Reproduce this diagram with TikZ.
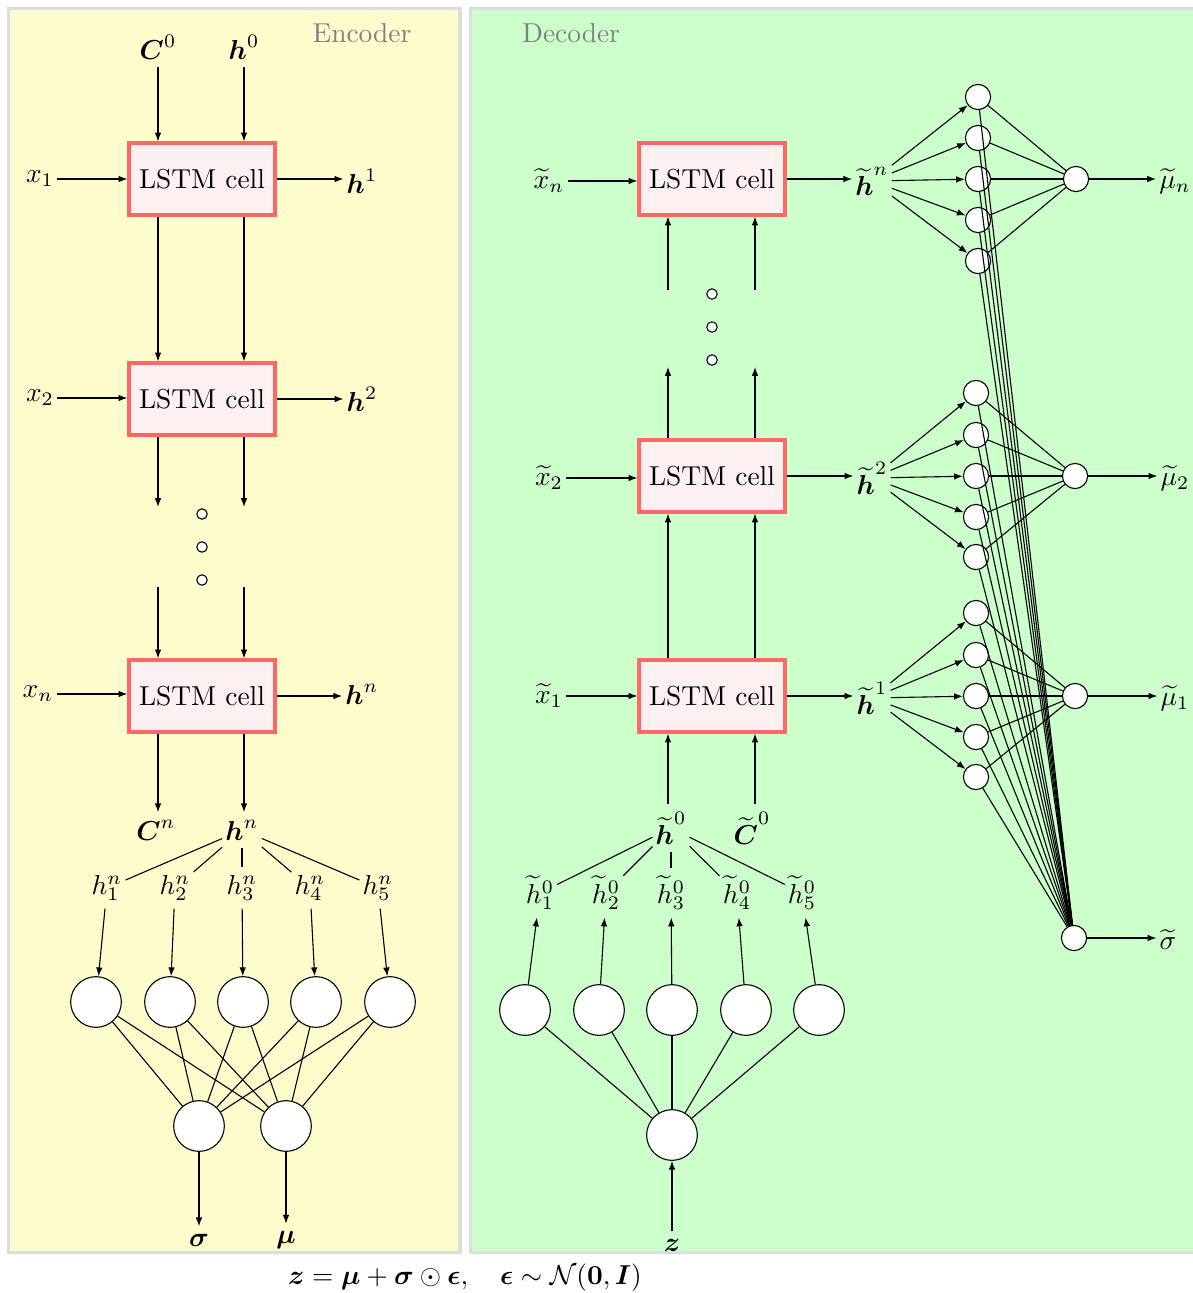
\documentclass[tikz,border=0pt]{standalone}
\usepackage{amsmath,amssymb}
\usetikzlibrary{arrows.meta}
\definecolor{encyellow}{RGB}{253,252,204}
\definecolor{decgreen}{RGB}{204,255,204}
\definecolor{panelgray}{RGB}{221,221,221}
\definecolor{lstmred}{RGB}{255,102,102}
\definecolor{lstmfill}{RGB}{253,240,240}
\definecolor{ttlgray}{RGB}{128,128,128}
\begin{document}
\begin{tikzpicture}[x=0.365pt,y=-0.365pt,
  >={Latex[length=3.2pt,width=2.4pt]},
  lstm/.style={draw=lstmred,fill=lstmfill,line width=1.2pt,minimum width=53.3pt,minimum height=26.3pt,inner sep=0pt},
  lbl/.style={inner xsep=1pt,inner ysep=2.6pt},
  bigc/.style={circle,draw,fill=white,minimum size=18.5pt,inner sep=0pt},
  smc/.style={circle,draw,fill=white,minimum size=9.2pt,inner sep=0pt},
  dotc/.style={circle,draw,fill=white,minimum size=3.8pt,inner sep=0pt},
  panel/.style={draw=panelgray,line width=1.1pt},
  ttl/.style={text=ttlgray}]
\useasboundingbox (0,0) rectangle (1193,1293);
\clip (0,0) rectangle (1193,1293);
% panels
\draw[panel,fill=encyellow] (8.5,8.5) rectangle (460,1252);
\draw[panel,fill=decgreen] (470.5,8.5) rectangle (1205,1252);
\node[ttl] (enc) at (362,33) {Encoder};
\node[ttl] (dec) at (571,33) {Decoder};

% ================= Encoder =================
\node[lbl] (C0) at (158,47) {$\boldsymbol{C}^0$};
\node[lbl] (h0) at (244,47) {$\boldsymbol{h}^0$};
\node[lstm] (e1) at (202,179) {LSTM cell};
\node[lbl] (x1) at (40,179) {$x_1$};
\node[lbl] (H1) at (362,181) {$\boldsymbol{h}^1$};
\node[lstm] (e2) at (202,399) {LSTM cell};
\node[lbl] (x2) at (40,398) {$x_2$};
\node[lbl] (H2) at (362,399) {$\boldsymbol{h}^2$};
\node[lstm] (e3) at (202,696) {LSTM cell};
\node[lbl] (xn) at (38,694) {$x_n$};
\node[lbl] (Hn) at (362,694) {$\boldsymbol{h}^n$};
\coordinate (ea) at (158,507);
\coordinate (eb) at (244,507);
\coordinate (ec) at (158,587);
\coordinate (ed) at (244,587);
\node[dotc] (edot1) at (202,514) {};
\node[dotc] (edot2) at (202,547) {};
\node[dotc] (edot3) at (202,580) {};
\node[lbl] (Cn) at (156,830) {$\boldsymbol{C}^n$};
\node[lbl] (hn) at (242,830) {$\boldsymbol{h}^n$};

\draw[->] (C0) -- (C0 |- e1.north);
\draw[->] (h0) -- (h0 |- e1.north);
\draw[->] (x1.east) -- (x1.east -| e1.west);
\draw[->] (e1.east) -- (e1.east -| H1.west);
\draw[->] (e1.south -| C0) -- (e2.north -| C0);
\draw[->] (e1.south -| h0) -- (e2.north -| h0);
\draw[->] (x2.east) -- (x2.east -| e2.west);
\draw[->] (e2.east) -- (e2.east -| H2.west);
\draw[->] (e2.south -| ea) -- (ea);
\draw[->] (e2.south -| eb) -- (eb);
\draw[->] (ec) -- (e3.north -| ec);
\draw[->] (ed) -- (e3.north -| ed);
\draw[->] (xn.east) -- (xn.east -| e3.west);
\draw[->] (e3.east) -- (e3.east -| Hn.west);
\draw[->] (e3.south -| C0) -- (C0 |- Cn.north);
\draw[->] (e3.south -| h0) -- (h0 |- hn.north);

\foreach \i/\lx/\cx in {1/107/96,2/175/170,3/242/243,4/310/316,5/378/390}{
  \node[lbl] (hn\i) at (\lx,888) {$h^n_{\i}$};
  \node[bigc] (ec\i) at (\cx,1002) {};
  \draw (hn) -- (hn\i);
  \draw[->] (hn\i) -- (ec\i);
}
\node[bigc] (eo1) at (199,1126) {};
\node[bigc] (eo2) at (286,1126) {};
\foreach \i in {1,...,5}{
  \draw (ec\i) -- (eo1);
  \draw (ec\i) -- (eo2);
}
\node[lbl] (sig) at (199,1240) {$\boldsymbol{\sigma}$};
\node[lbl] (mu) at (286,1240) {$\boldsymbol{\mu}$};
\draw[->] (eo1) -- (sig);
\draw[->] (eo2) -- (mu);

% ================= Decoder =================
\node[lstm] (d3) at (712,179) {LSTM cell};
\node[lbl] (dxn) at (549,181) {$\widetilde{x}_n$};
\node[lbl] (dHn) at (872,181) {$\widetilde{\boldsymbol{h}}^n$};
\node[lstm] (d2) at (712,476) {LSTM cell};
\node[lbl] (dx2) at (549,478) {$\widetilde{x}_2$};
\node[lbl] (dH2) at (872,478) {$\widetilde{\boldsymbol{h}}^2$};
\node[lstm] (d1) at (712,696) {LSTM cell};
\node[lbl] (dx1) at (549,696) {$\widetilde{x}_1$};
\node[lbl] (dH1) at (872,698) {$\widetilde{\boldsymbol{h}}^1$};
\coordinate (da) at (668,290);
\coordinate (db) at (755,290);
\coordinate (dc) at (668,367);
\coordinate (dd) at (755,367);
\node[dotc] (ddot1) at (712,294) {};
\node[dotc] (ddot2) at (712,327) {};
\node[dotc] (ddot3) at (712,360) {};
\node[lbl] (dh0) at (671,828) {$\widetilde{\boldsymbol{h}}^0$};
\node[lbl] (dC0) at (752,828) {$\widetilde{\boldsymbol{C}}^0$};

\draw[->] (dxn.east) -- (dxn.east -| d3.west);
\draw[->] (dx2.east) -- (dx2.east -| d2.west);
\draw[->] (dx1.east) -- (dx1.east -| d1.west);
\draw[->] (d3.east) -- (d3.east -| dHn.west);
\draw[->] (d2.east) -- (d2.east -| dH2.west);
\draw[->] (d1.east) -- (d1.east -| dH1.west);
\draw[->] (da) -- (d3.south -| da);
\draw[->] (db) -- (d3.south -| db);
\draw[->] (d2.north -| dc) -- (dc);
\draw[->] (d2.north -| dd) -- (dd);
\draw[->] (d1.north -| da) -- (d2.south -| da);
\draw[->] (d1.north -| db) -- (d2.south -| db);
\draw[->] (dh0.north -| da) -- (d1.south -| da);
\draw[->] (dC0.north -| db) -- (d1.south -| db);

\node[bigc] (zc) at (672,1135) {};
\node[lbl] (z) at (672,1245) {$\boldsymbol{z}$};
\draw[->] (z) -- (zc);
\foreach \i/\lx/\cx in {1/540/525,2/606/599,3/671/672,4/737/746,5/802/819}{
  \node[lbl] (dh\i) at (\lx,893) {$\widetilde{h}^0_{\i}$};
  \node[bigc] (dc\i) at (\cx,1010) {};
  \draw (dh0) -- (dh\i);
  \draw[->] (dc\i) -- (dh\i);
  \draw (zc) -- (dc\i);
}

% right network
\node[smc] (sg) at (1074,938) {};
\node[lbl] (sgl) at (1168,940) {$\widetilde{\sigma}$};
\draw[->] (sg) -- (sg -| sgl.west);
\foreach \g/\H/\sx/\ya/\yb/\yc/\yd/\ye/\ox/\oy/\ml/\mt in {
  n/dHn/978/97/138/179/220/261/1076/179/1175/{\widetilde{\mu}_n},
  b/dH2/976/393/435/476/517/557/1075/476/1175/{\widetilde{\mu}_2},
  a/dH1/976/613/655/696/737/777/1075/696/1175/{\widetilde{\mu}_1}}{
  \node[smc] (o\g) at (\ox,\oy) {};
  \node[lbl] (m\g) at (\ml,\oy+2) {$\mt$};
  \draw[->] (o\g) -- (o\g -| m\g.west);
  \foreach \k/\yy in {1/\ya,2/\yb,3/\yc,4/\yd,5/\ye}{
    \node[smc] (s\g\k) at (\sx,\yy) {};
    \draw[->] (\H) -- (s\g\k);
  }
  \foreach \k in {1,...,5}{
    \draw (s\g\k) -- (o\g);
    \draw (s\g\k) -- (sg);
  }
}

% caption
\node (cap) at (465,1278) {$\boldsymbol{z}=\boldsymbol{\mu}+\boldsymbol{\sigma}\odot\boldsymbol{\epsilon},\quad \boldsymbol{\epsilon}\sim\mathcal{N}(\mathbf{0},\boldsymbol{I})$};
\end{tikzpicture}
\end{document}
